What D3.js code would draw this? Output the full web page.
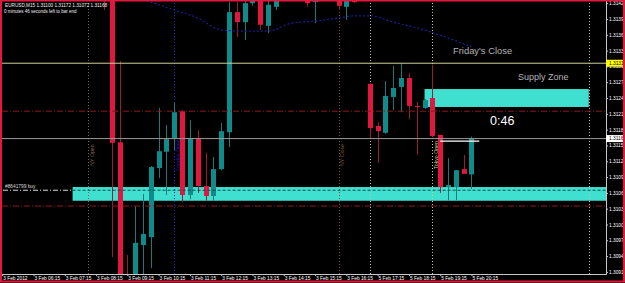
<!DOCTYPE html>
<html>
<head>
<meta charset="utf-8">
<script src="https://cdn.jsdelivr.net/npm/d3@7"></script>
<style>
body { margin: 0; background: #000; }
svg { display: block; font-family: 'Liberation Sans', Arial, sans-serif; }
</style>
</head>
<body>
<script>
// EURUSD M15, bars counted from the first label (3 Feb 05:15)
var firstBar = 13;
var opens  = [1.31450,1.31445,1.31161,1.30905,1.30890,1.30966,1.30981,1.31112,1.31143,1.31169,1.31220,1.31061,1.31169,1.31078,1.31059,1.31110,1.31180,1.31408,1.31389,1.31425,1.31450,1.31382,1.31418,1.31445,1.31460,1.31450,1.31445,1.31427,1.31440,1.31455,1.31445,1.31418,1.31445,1.31440,1.31272,1.31192,1.31179,1.31247,1.31266,1.31283,1.31230,1.31226,1.31245,1.31175,1.31076,1.31076,1.31110,1.31100];
var highs  = [1.31480,1.31460,1.31315,1.30947,1.31040,1.31063,1.31116,1.31226,1.31194,1.31237,1.31222,1.31203,1.31184,1.31141,1.31133,1.31198,1.31427,1.31427,1.31440,1.31455,1.31460,1.31435,1.31450,1.31470,1.31480,1.31465,1.31455,1.31450,1.31460,1.31470,1.31455,1.31450,1.31455,1.31450,1.31273,1.31199,1.31277,1.31306,1.31311,1.31292,1.31237,1.31243,1.31308,1.31175,1.31131,1.31108,1.31137,1.31172];
var lows   = [1.31412,1.30943,1.30860,1.30870,1.30870,1.30890,1.30922,1.31093,1.31061,1.31146,1.31048,1.31053,1.31065,1.31050,1.31050,1.31108,1.31152,1.31361,1.31355,1.31420,1.31374,1.31368,1.31412,1.31435,1.31440,1.31438,1.31418,1.31387,1.31433,1.31440,1.31412,1.31393,1.31425,1.31433,1.31169,1.31122,1.31177,1.31222,1.31218,1.31205,1.31137,1.31224,1.31171,1.31065,1.31051,1.31051,1.31101,1.31072];
var closes = [1.31440,1.31160,1.30880,1.30880,1.30970,1.30987,1.31114,1.31144,1.31167,1.31218,1.31061,1.31169,1.31078,1.31059,1.31110,1.31182,1.31408,1.31389,1.31425,1.31445,1.31384,1.31422,1.31440,1.31460,1.31450,1.31445,1.31425,1.31440,1.31455,1.31445,1.31420,1.31440,1.31427,1.31436,1.31188,1.31182,1.31249,1.31264,1.31283,1.31230,1.31228,1.31241,1.31173,1.31076,1.31080,1.31108,1.31101,1.31168];

// moving average, read at a few bars
var maBars   = [17, 19, 22, 25, 28, 31, 34, 37, 40, 43, 45, 47, 50, 54, 57, 60];
var maValues = [1.31436,1.31427,1.31412,1.31397,1.31374,1.31372,1.31372,1.31387,1.31391,1.31397,1.31401,1.31401,1.31389,1.31374,1.31359,1.31342];

var labelBars  = [0,4,8,12,16,20,24,28,32,36,40,44,48,52,56,60];
var timeLabels = ['3 Feb 2012','3 Feb 06:15','3 Feb 07:15','3 Feb 08:15','3 Feb 09:15','3 Feb 10:15','3 Feb 11:15','3 Feb 12:15','3 Feb 13:15','3 Feb 14:15','3 Feb 15:15','3 Feb 16:15','5 Feb 17:15','5 Feb 18:15','5 Feb 19:15','5 Feb 20:15'];
var priceTicks = [1.31425,1.31395,1.31365,1.31335,1.31305,1.31275,1.31245,1.31215,1.31185,1.31155,1.31125,1.31095,1.31065,1.31035,1.31005,1.30975,1.30945,1.30915];

var fridayClose = 1.31311, bid = 1.31168;
var levels = [1.31220, 1.31040];
var orderPrice = 1.31070, orderLabel = '#8641799 buy';
var demandTop = 1.31076, demandBottom = 1.31050, demandStart = 9;
var supplyTop = 1.31262, supplyBottom = 1.31228, supplyStart = 54, supplyEnd = 75;
var timerPrice = 1.31163, timerStart = 56, timerEnd = 61;

var sessionBars   = [11, 22, 43, 47, 55, 75];
var sessionNames  = ['NY Open', 'London Open', 'NY Close', '', 'Tokyo Open', ''];
var sessionColors = ['#7d6450', '#2323b4', '#80583c', '#bdbdbd', '#d2cc86', '#bdbdbd'];

var W = 625, H = 283, plotR = 606, plotB = 274;

var x = d3.scaleLinear().domain([0, 77.2]).range([2.2, plotR]);
var y = d3.scaleLinear().domain([1.30911, 1.31431]).range([plotB, 0]);

var svg = d3.select('body').append('svg').attr('width', W).attr('height', H);
svg.append('rect').attr('width', W).attr('height', H).attr('fill', '#000');

svg.append('defs').append('clipPath').attr('id', 'plot')
	.append('rect').attr('x', 2).attr('y', 0).attr('width', plotR - 2).attr('height', plotB);

var plot = svg.append('g').attr('clip-path', 'url(#plot)');

// zones sit behind the bars
plot.append('rect').attr('x', x(demandStart)).attr('y', y(demandTop))
	.attr('width', plotR - x(demandStart)).attr('height', y(demandBottom) - y(demandTop)).attr('fill', '#40e0d0');
plot.append('rect').attr('x', x(supplyStart)).attr('y', y(supplyTop))
	.attr('width', x(supplyEnd) - x(supplyStart)).attr('height', y(supplyBottom) - y(supplyTop)).attr('fill', '#40e0d0');

// session separators (behind bars too)
var sess = plot.selectAll('g.sess').data(sessionBars).enter().append('g').attr('class', 'sess');
sess.append('line')
	.attr('x1', function(d) { return Math.round(x(d)) + 0.5; })
	.attr('x2', function(d) { return Math.round(x(d)) + 0.5; })
	.attr('y1', 0).attr('y2', plotB)
	.attr('stroke', function(d, i) { return sessionColors[i]; })
	.attr('stroke-dasharray', '1,2');
sess.append('text')
	.attr('transform', function(d) { return 'translate(' + (x(d) + 5.5) + ',155) rotate(-90)'; })
	.attr('text-anchor', 'middle').attr('font-size', 5.2)
	.attr('fill', function(d, i) { return sessionColors[i]; })
	.text(function(d, i) { return sessionNames[i]; });

var bars = d3.range(opens.length).map(function(i) {
	return {i: firstBar + i, o: opens[i], h: highs[i], l: lows[i], c: closes[i]};
});

var candle = plot.selectAll('g.bar').data(bars).enter().append('g').attr('class', 'bar');
candle.append('line')
	.attr('x1', function(d) { return Math.round(x(d.i)) + 0.5; })
	.attr('x2', function(d) { return Math.round(x(d.i)) + 0.5; })
	.attr('y1', function(d) { return y(d.h); })
	.attr('y2', function(d) { return y(d.l); })
	.attr('stroke', function(d) { return d.c >= d.o ? '#1f7676' : '#9c1a32'; })
	.attr('stroke-width', 1);
candle.append('rect')
	.attr('x', function(d) { return Math.round(x(d.i)) - 2; })
	.attr('width', 5)
	.attr('y', function(d) { return y(Math.max(d.o, d.c)); })
	.attr('height', function(d) { return Math.max(1, Math.abs(y(d.o) - y(d.c))); })
	.attr('fill', function(d) { return d.c >= d.o ? '#0f8b8b' : '#e0173f'; });

// moving average
var ma = d3.line().x(function(d) { return x(d[0]); }).y(function(d) { return y(d[1]); }).curve(d3.curveMonotoneX);
plot.append('path').datum(d3.zip(maBars, maValues)).attr('d', ma)
	.attr('fill', 'none').attr('stroke', '#1c1c96').attr('stroke-width', 1.2).attr('stroke-dasharray', '2,2');

// horizontal levels
plot.append('line').attr('x1', 2).attr('x2', plotR).attr('y1', y(fridayClose)).attr('y2', y(fridayClose))
	.attr('stroke', '#cfcf9c').attr('stroke-width', 1);
plot.append('line').attr('x1', 2).attr('x2', plotR).attr('y1', y(bid)).attr('y2', y(bid))
	.attr('stroke', '#9a9a9a').attr('stroke-width', 1);
plot.selectAll('line.lvl').data(levels).enter().append('line').attr('class', 'lvl')
	.attr('x1', 2).attr('x2', plotR)
	.attr('y1', function(d) { return y(d); }).attr('y2', function(d) { return y(d); })
	.attr('stroke', '#8e1a1a').attr('stroke-width', 1).attr('stroke-dasharray', '6,2,1,2');
plot.append('line').attr('x1', 3).attr('x2', x(demandStart)).attr('y1', y(orderPrice)).attr('y2', y(orderPrice))
	.attr('stroke', '#d8d8d8').attr('stroke-width', 1).attr('stroke-dasharray', '5,2,1,2');
plot.append('line').attr('x1', x(demandStart)).attr('x2', plotR).attr('y1', y(orderPrice)).attr('y2', y(orderPrice))
	.attr('stroke', '#0d4d4d').attr('stroke-width', 1).attr('stroke-dasharray', '3,2');
plot.append('line').attr('x1', x(timerStart)).attr('x2', x(timerEnd)).attr('y1', y(timerPrice)).attr('y2', y(timerPrice))
	.attr('stroke', '#fff').attr('stroke-width', 1.3);

// texts
svg.append('text').attr('x', 5).attr('y', 7).attr('font-size', 4.7).attr('fill', '#eee')
	.text('EURUSD,M15  1.31100 1.31172 1.31072 1.31168');
svg.append('text').attr('x', 4).attr('y', 12.5).attr('font-size', 4.5).attr('fill', '#eee')
	.text('0 minutes 46 seconds left to bar end');
svg.append('text').attr('x', 5).attr('y', y(orderPrice) - 2).attr('font-size', 4.8).attr('fill', '#ddd')
	.text(orderLabel);
svg.append('text').attr('x', 453).attr('y', 53.5).attr('font-size', 9.4).attr('fill', '#b4b4b4').text("Friday's Close");
svg.append('text').attr('x', 518).attr('y', 80).attr('font-size', 9).attr('fill', '#b4b4b4').text('Supply Zone');
svg.append('text').attr('x', 490).attr('y', 124.5).attr('font-size', 12.5).attr('fill', '#fff').text('0:46');

// axes
var yAxis = d3.axisRight(y).tickValues(priceTicks).tickSize(2).tickSizeOuter(0).tickPadding(1)
	.tickFormat(d3.format('.5f'));
var ya = svg.append('g').attr('transform', 'translate(' + plotR + ',0)').call(yAxis);

var xAxis = d3.axisBottom(x).tickValues(labelBars).tickSize(2).tickSizeOuter(0).tickPadding(1)
	.tickFormat(function(d, i) { return timeLabels[i]; });
var xa = svg.append('g').attr('transform', 'translate(0,' + plotB + ')').call(xAxis);
xa.selectAll('text').attr('text-anchor', 'start').attr('dx', 0.5);

[ya, xa].forEach(function(a) {
	a.select('.domain').attr('stroke', '#c8c8c8');
	a.selectAll('.tick line').attr('stroke', '#c8c8c8');
	a.selectAll('text').attr('fill', '#fff').attr('font-size', 4.8).attr('font-family', "'Liberation Sans', Arial, sans-serif");
});

// price tags on the right scale
var tags = [[fridayClose, '#ffff00'], [bid, '#ffffff']];
tags.forEach(function(t) {
	svg.append('rect').attr('x', plotR).attr('y', y(t[0]) - 3.5).attr('width', 17).attr('height', 7).attr('fill', t[1]);
	svg.append('text').attr('x', plotR + 3).attr('y', y(t[0]) + 1.7).attr('font-size', 4.8).attr('fill', '#000')
		.text(d3.format('.5f')(t[0]));
});

// window frame
svg.append('rect').attr('x', 1).attr('y', 0.5).attr('width', W - 2).attr('height', H - 2)
	.attr('fill', 'none').attr('stroke', '#e3183c').attr('stroke-width', 2);
</script>
</body>
</html>
